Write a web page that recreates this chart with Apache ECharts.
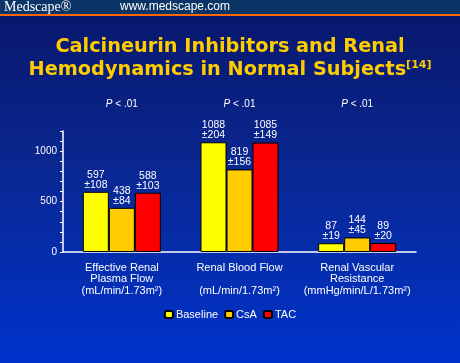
<!DOCTYPE html>
<html><head><meta charset="utf-8">
<script src="https://cdn.jsdelivr.net/npm/echarts@6/dist/echarts.min.js"></script>
<style>html,body{margin:0;padding:0;background:#0a1f80;}#c{width:460px;height:363px;}</style>
</head><body><div id="c"></div>
<script>
const categories = ['Effective Renal\nPlasma Flow\n(mL/min/1.73m²)', 'Renal Blood Flow\n\n(mL/min/1.73m²)', 'Renal Vascular\nResistance\n(mmHg/min/L/1.73m²)'];
const pLabels = ['P < .01', 'P < .01', 'P < .01'];
const baseline = [597, 1088, 87];
const baselineSD = [108, 204, 19];
const csa = [438, 819, 144];
const csaSD = [84, 156, 45];
const tac = [588, 1085, 89];
const tacSD = [103, 149, 20];
const yTickLabels = [0, 500, 1000];

const chart = echarts.init(document.getElementById('c'));
const font = 'Liberation Sans, Arial, sans-serif';
function mkSeries(name, data, sd, color) {
  return {
    name, type: 'bar', data, barWidth: 26, barGap: '0%',
    itemStyle: { color, borderColor: '#000', borderWidth: 1 },
    label: {
      show: true, position: 'top', distance: 2, color: '#fff',
      fontFamily: font, fontSize: 10.5, lineHeight: 10,
      formatter: p => p.value + '\n±' + sd[p.dataIndex]
    }
  };
}
chart.setOption({
  backgroundColor: { type: 'linear', x: 0, y: 0, x2: 0, y2: 1,
    colorStops: [{ offset: 0, color: '#08166a' }, { offset: 0.45, color: '#0a2790' }, { offset: 1, color: '#0033cc' }] },
  animation: false,
  graphic: [
    { type: 'rect', shape: { x: 0, y: 0, width: 460, height: 14 }, style: { fill: '#0b3466' } },
    { type: 'rect', shape: { x: 0, y: 14, width: 460, height: 2 }, style: { fill: '#ff6600' } },
    { type: 'text', x: 4, y: 7, style: { text: 'Medscape®', fill: '#fff', font: '14px Liberation Serif, serif', textVerticalAlign: 'middle' } },
    { type: 'text', x: 120, y: 7, style: { text: 'www.medscape.com', fill: '#fff', font: '12px Liberation Sans, Arial, sans-serif', textVerticalAlign: 'middle' } }
  ],
  title: {
    text: 'Calcineurin Inhibitors and Renal\nHemodynamics in Normal Subjects{sup|[14]}',
    left: 'center', top: 30,
    textStyle: { color: '#ffcc00', fontFamily: 'DejaVu Sans', fontWeight: 'bold', fontSize: 19.3, lineHeight: 23,
      rich: { sup: { color: '#ffcc00', fontFamily: 'DejaVu Sans', fontWeight: 'bold', fontSize: 11, padding: [0, 0, 9, 0] } } }
  },
  legend: {
    bottom: 38, left: 'center', itemWidth: 8, itemHeight: 7, itemGap: 6,
    textStyle: { color: '#fff', fontFamily: font, fontSize: 11, padding: [0, 0, 0, -2] },
    data: ['Baseline', 'CsA', 'TAC']
  },
  grid: { left: 63, right: 44, top: 131, bottom: 111 },
  xAxis: [
    { type: 'category', data: categories,
      axisLine: { lineStyle: { color: '#fff', width: 1.5 } }, axisTick: { show: false },
      axisLabel: { color: '#fff', fontFamily: font, fontSize: 11, lineHeight: 11.5, margin: 10, interval: 0 } },
    { type: 'category', position: 'top', data: pLabels,
      axisLine: { show: false }, axisTick: { show: false },
      axisLabel: { color: '#fff', fontFamily: font, fontSize: 10, margin: 22, interval: 0,
        formatter: v => '{i|P}' + v.slice(1),
        rich: { i: { fontStyle: 'italic', color: '#fff', fontFamily: font, fontSize: 10 } } } }
  ],
  yAxis: {
    type: 'value', min: 0, max: 1200, interval: 100,
    splitLine: { show: false },
    axisLine: { show: true, lineStyle: { color: '#fff', width: 1.5 } },
    axisTick: { show: true, length: 3, inside: false, lineStyle: { color: '#fff' } },
    axisLabel: { color: '#fff', fontFamily: font, fontSize: 10, margin: 6,
      formatter: v => yTickLabels.includes(v) ? String(v) : '' }
  },
  series: [
    mkSeries('Baseline', baseline, baselineSD, '#ffff00'),
    mkSeries('CsA', csa, csaSD, '#ffcc00'),
    mkSeries('TAC', tac, tacSD, '#ff0000')
  ]
});
</script></body></html>
